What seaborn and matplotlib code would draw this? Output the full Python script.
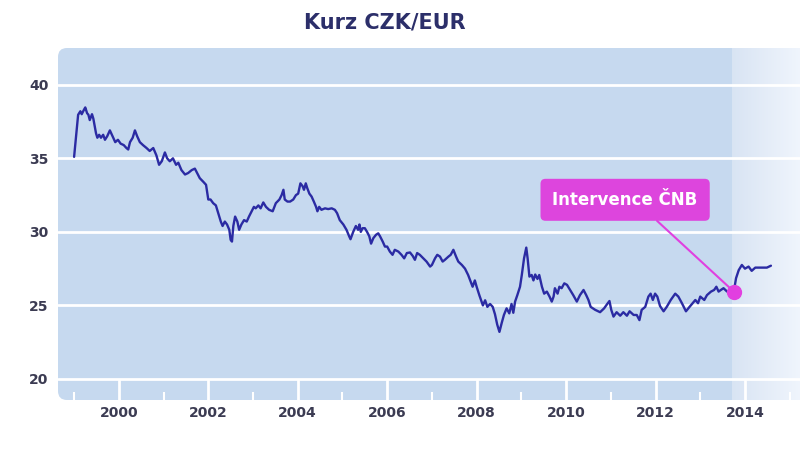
import numpy as np
import pandas as pd
import matplotlib
matplotlib.use("Agg")
import matplotlib.pyplot as plt
from matplotlib.patches import FancyBboxPatch
from matplotlib.ticker import MultipleLocator
import seaborn as sns

title = "Kurz CZK/EUR"
annotation_text = "Intervence ČNB"

years = [
    1999.00, 1999.09, 1999.14, 1999.17, 1999.22, 1999.25, 1999.29, 1999.32, 1999.35, 1999.40,
    1999.43, 1999.49, 1999.52, 1999.56, 1999.60, 1999.65, 1999.69, 1999.74, 1999.80, 1999.86,
    1999.92, 1999.98, 2000.04, 2000.11, 2000.17, 2000.21, 2000.25, 2000.31, 2000.36, 2000.41,
    2000.47, 2000.54, 2000.62, 2000.69, 2000.77, 2000.84, 2000.90, 2000.96, 2001.03, 2001.08,
    2001.14, 2001.21, 2001.28, 2001.33, 2001.40, 2001.48, 2001.55, 2001.63, 2001.70, 2001.75,
    2001.81, 2001.89, 2001.95, 2002.00, 2002.05, 2002.11, 2002.17, 2002.22, 2002.28, 2002.32,
    2002.37, 2002.42, 2002.47, 2002.50, 2002.53, 2002.56, 2002.60, 2002.65, 2002.69, 2002.74,
    2002.80, 2002.86, 2002.91, 2002.97, 2003.02, 2003.06, 2003.12, 2003.17, 2003.23, 2003.29,
    2003.36, 2003.44, 2003.51, 2003.59, 2003.64, 2003.68, 2003.71, 2003.77, 2003.83, 2003.90,
    2003.96, 2004.01, 2004.06, 2004.11, 2004.14, 2004.18, 2004.21, 2004.26, 2004.31, 2004.36,
    2004.41, 2004.44, 2004.48, 2004.53, 2004.61, 2004.68, 2004.76, 2004.83, 2004.88, 2004.94,
    2005.02, 2005.09, 2005.15, 2005.18, 2005.24, 2005.30, 2005.35, 2005.38, 2005.41, 2005.45,
    2005.50, 2005.55, 2005.60, 2005.64, 2005.69, 2005.75, 2005.80, 2005.84, 2005.90, 2005.95,
    2006.00, 2006.06, 2006.12, 2006.17, 2006.25, 2006.32, 2006.38, 2006.44, 2006.51, 2006.57,
    2006.62, 2006.67, 2006.73, 2006.81, 2006.88, 2006.96, 2007.00, 2007.07, 2007.12, 2007.18,
    2007.24, 2007.29, 2007.37, 2007.42, 2007.48, 2007.54, 2007.59, 2007.67, 2007.74, 2007.81,
    2007.87, 2007.91, 2007.96, 2008.00, 2008.06, 2008.14, 2008.19, 2008.24, 2008.30, 2008.36,
    2008.41, 2008.46, 2008.51, 2008.56, 2008.61, 2008.67, 2008.73, 2008.78, 2008.82, 2008.86,
    2008.91, 2008.97, 2009.01, 2009.06, 2009.11, 2009.14, 2009.18, 2009.23, 2009.27, 2009.31,
    2009.36, 2009.40, 2009.46, 2009.51, 2009.57, 2009.63, 2009.68, 2009.72, 2009.75, 2009.81,
    2009.85, 2009.90, 2009.96, 2010.02, 2010.09, 2010.16, 2010.24, 2010.31, 2010.39, 2010.45,
    2010.50, 2010.55, 2010.65, 2010.76, 2010.85, 2010.92, 2010.97, 2011.01, 2011.06, 2011.13,
    2011.21, 2011.28, 2011.36, 2011.42, 2011.51, 2011.58, 2011.64, 2011.69, 2011.77, 2011.84,
    2011.89, 2011.94, 2011.99, 2012.04, 2012.10, 2012.18, 2012.25, 2012.34, 2012.44, 2012.51,
    2012.59, 2012.68, 2012.76, 2012.83, 2012.89, 2012.95, 2013.00, 2013.09, 2013.15, 2013.24,
    2013.31, 2013.36, 2013.41, 2013.46, 2013.52, 2013.60, 2013.75, 2013.80, 2013.86, 2013.93,
    2014.00, 2014.08, 2014.15, 2014.23, 2014.34, 2014.49, 2014.58,
]
rates = [
    35.10, 37.96, 38.20, 38.00, 38.30, 38.46, 38.07, 37.96, 37.60, 38.00,
    37.70, 36.70, 36.40, 36.60, 36.40, 36.60, 36.26, 36.50, 36.90, 36.50,
    36.10, 36.26, 36.00, 35.90, 35.70, 35.60, 36.10, 36.40, 36.90, 36.50,
    36.10, 35.90, 35.70, 35.50, 35.70, 35.20, 34.56, 34.80, 35.40, 35.00,
    34.80, 35.00, 34.56, 34.70, 34.20, 33.90, 34.00, 34.20, 34.30, 34.00,
    33.65, 33.40, 33.20, 32.20, 32.20, 31.95, 31.80, 31.30, 30.70, 30.40,
    30.70, 30.50, 30.14, 29.46, 29.34, 30.40, 31.04, 30.70, 30.14, 30.50,
    30.80, 30.70, 31.04, 31.40, 31.70, 31.60, 31.80, 31.60, 32.00, 31.70,
    31.50, 31.40, 31.95, 32.20, 32.50, 32.86, 32.20, 32.06, 32.06, 32.20,
    32.50, 32.60, 33.30, 33.10, 32.86, 33.30, 33.00, 32.60, 32.40, 32.06,
    31.70, 31.40, 31.70, 31.50, 31.60, 31.55, 31.60, 31.50, 31.27, 30.80,
    30.50, 30.14, 29.70, 29.50, 30.00, 30.40, 30.14, 30.50, 30.00, 30.25,
    30.25, 30.00, 29.70, 29.20, 29.57, 29.80, 29.90, 29.70, 29.34, 29.00,
    29.00, 28.66, 28.44, 28.78, 28.66, 28.44, 28.20, 28.56, 28.60, 28.37,
    28.10, 28.56, 28.44, 28.20, 27.98, 27.64, 27.75, 28.20, 28.44, 28.32,
    27.98, 28.10, 28.32, 28.44, 28.78, 28.32, 27.98, 27.75, 27.50, 27.07,
    26.60, 26.27, 26.70, 26.27, 25.70, 25.00, 25.35, 24.90, 25.10, 24.90,
    24.40, 23.70, 23.20, 23.80, 24.35, 24.80, 24.46, 25.10, 24.50, 25.26,
    25.70, 26.27, 27.07, 28.20, 28.93, 28.20, 26.96, 27.07, 26.70, 27.10,
    26.80, 27.07, 26.27, 25.80, 25.94, 25.60, 25.26, 25.60, 26.17, 25.80,
    26.27, 26.17, 26.50, 26.40, 26.05, 25.70, 25.26, 25.70, 26.05, 25.70,
    25.37, 24.90, 24.70, 24.54, 24.80, 25.10, 25.30, 24.70, 24.24, 24.54,
    24.30, 24.54, 24.30, 24.60, 24.35, 24.35, 24.00, 24.70, 24.90, 25.60,
    25.80, 25.37, 25.80, 25.60, 24.96, 24.60, 24.90, 25.37, 25.80, 25.60,
    25.15, 24.60, 24.90, 25.15, 25.37, 25.15, 25.60, 25.37, 25.70, 25.94,
    26.05, 26.27, 25.94, 26.05, 26.17, 25.94, 25.94, 26.85, 27.40, 27.75,
    27.50, 27.64, 27.35, 27.57, 27.57, 27.57, 27.70,
]
intervention_year = 2013.75
intervention_rate = 25.94
shade_start = 2013.72
label_year = 2011.32
label_rate = 32.18

y_ticks = [20, 25, 30, 35, 40]
x_ticks = [2000, 2002, 2004, 2006, 2008, 2010, 2012, 2014]

df = pd.DataFrame({"year": years, "rate": rates})

sns.set_theme(style="white")
plt.rcParams["font.family"] = ["DejaVu Sans"]

W, H = 800, 449
fig = plt.figure(figsize=(W / 100, H / 100), dpi=100)
fig.patch.set_facecolor("white")

left_px, right_px, top_px, bottom_px = 58, 800, 48, 400
ax = fig.add_axes([left_px / W, 1 - bottom_px / H, (right_px - left_px) / W, (bottom_px - top_px) / H])
ax.patch.set_visible(False)
ax.set_zorder(2)

bg = "#c6d9ef"
fig.patches.append(FancyBboxPatch((left_px, H - bottom_px), 800, bottom_px - top_px,
                                  boxstyle="round,pad=0,rounding_size=9",
                                  transform=None, facecolor=bg, edgecolor="none", zorder=-1))

xmin, xmax = 1998.64, 2015.23
ymin, ymax = 18.57, 42.5

# lighter gradient region after intervention
c0 = np.array([0.85, 0.895, 0.955])
c1 = np.array([0.94, 0.96, 0.99])
t = np.linspace(0, 1, 100)[None, :, None]
grad = c0 + (c1 - c0) * t
ax.imshow(np.repeat(grad, 2, axis=0), extent=[shade_start, xmax, ymin, ymax],
          aspect="auto", zorder=0.5, interpolation="bilinear")
ax.set_xlim(xmin, xmax)
ax.set_ylim(ymin, ymax)

# grid lines
for v in y_ticks:
    ax.axhline(v, color="white", lw=2.0, zorder=1)

sns.lineplot(data=df, x="year", y="rate", ax=ax, color="#2b2ba3", lw=1.7, zorder=3, sort=False)

ax.plot([intervention_year], [intervention_rate], "o", color="#e23fe0", ms=10, zorder=5)
ax.annotate(annotation_text, xy=(intervention_year, intervention_rate),
            xytext=(label_year, label_rate), ha="center", va="center",
            fontsize=12, fontweight="bold", color="white", zorder=6,
            bbox=dict(boxstyle="round,pad=0.72,rounding_size=0.3", fc="#dd45dd", ec="none"),
            arrowprops=dict(arrowstyle="-", color="#e040e0", lw=1.5, relpos=(0.63, 0.0),
                            shrinkA=0, shrinkB=0))

ax.set_yticks(y_ticks)
ax.set_xticks(x_ticks)
ax.xaxis.set_minor_locator(MultipleLocator(1))
ax.set_yticklabels([str(v) for v in y_ticks])
ax.set_xticklabels([str(v) for v in x_ticks])
ax.tick_params(axis="y", length=0, pad=7, labelsize=10, labelcolor="#3b3b52")
ax.tick_params(axis="x", which="major", bottom=True, direction="in", length=15, width=2,
               color="white", pad=4, labelsize=10, labelcolor="#3b3b52")
ax.tick_params(axis="x", which="minor", bottom=True, direction="in", length=6, width=1.5,
               color="white")
for lab in ax.get_xticklabels() + ax.get_yticklabels():
    lab.set_fontweight("bold")
for s in ax.spines.values():
    s.set_visible(False)
ax.set_xlabel("")
ax.set_ylabel("")

fig.text(385 / W, 1 - 22 / H, title, ha="center", va="center", fontsize=15,
         fontweight="bold", color="#2c2f6a")

fig.savefig("out.png", dpi=100)
